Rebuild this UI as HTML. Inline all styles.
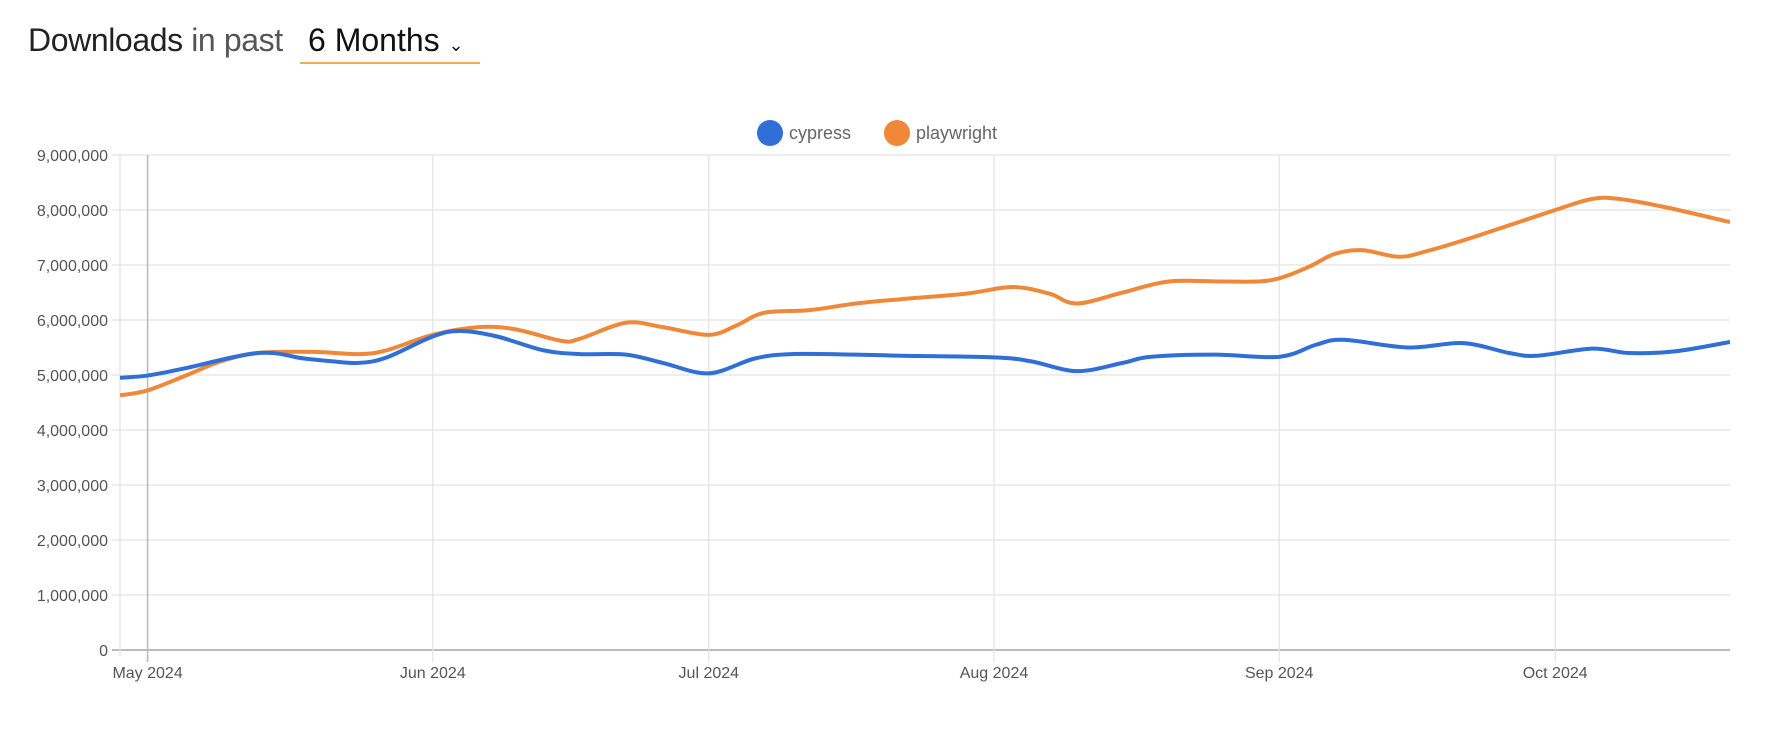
<!DOCTYPE html>
<html><head><meta charset="utf-8"><style>
body{margin:0;background:#fff;width:1778px;height:732px;overflow:hidden;font-family:"Liberation Sans",sans-serif}
#title{position:absolute;left:28px;top:22px;font-size:32px;color:#222;white-space:nowrap;letter-spacing:-0.4px}
#title b{font-weight:normal;color:#222}
#title .lt{color:#555}
#sel{position:absolute;left:300px;top:22px;width:172px;border-bottom:2px solid #e9b14f;font-size:32px;color:#111;padding-left:8px;height:40px}
svg{position:absolute;left:0;top:0}
</style></head><body>
<div id="title"><b>Downloads</b> <span class="lt">in past</span></div>
<div id="sel">6 Months <span style="font-size:18px">⌄</span></div>
<svg id="c" width="1778" height="732"></svg>
<script>
const cypressDates=["2024-04-28","2024-05-01","2024-05-05","2024-05-13","2024-05-18","2024-05-21","2024-05-24","2024-05-27","2024-06-01","2024-06-04","2024-06-08","2024-06-13","2024-06-17","2024-06-22","2024-06-26","2024-07-01","2024-07-06","2024-07-10","2024-07-17","2024-07-22","2024-08-01","2024-08-05","2024-08-10","2024-08-15","2024-08-18","2024-08-25","2024-09-01","2024-09-05","2024-09-08","2024-09-15","2024-09-21","2024-09-26","2024-09-29","2024-10-05","2024-10-09","2024-10-14","2024-10-20"];
const cypressValues=[4.95,4.99,5.12,5.4,5.3,5.25,5.22,5.32,5.7,5.8,5.7,5.45,5.38,5.37,5.22,5.03,5.3,5.38,5.37,5.35,5.32,5.25,5.07,5.22,5.33,5.37,5.33,5.55,5.64,5.5,5.58,5.4,5.35,5.48,5.4,5.43,5.6];
const playDates=["2024-04-28","2024-05-01","2024-05-05","2024-05-09","2024-05-13","2024-05-19","2024-05-24","2024-05-27","2024-06-01","2024-06-06","2024-06-10","2024-06-15","2024-06-17","2024-06-22","2024-06-26","2024-07-01","2024-07-04","2024-07-07","2024-07-12","2024-07-17","2024-07-22","2024-07-29","2024-08-03","2024-08-07","2024-08-10","2024-08-15","2024-08-20","2024-08-26","2024-08-31","2024-09-04","2024-09-07","2024-09-10","2024-09-14","2024-09-17","2024-09-22","2024-10-01","2024-10-05","2024-10-08","2024-10-13","2024-10-20"];
const playValues=[4.63,4.72,4.98,5.25,5.4,5.42,5.38,5.45,5.73,5.87,5.83,5.62,5.66,5.95,5.87,5.73,5.9,6.13,6.18,6.3,6.38,6.48,6.6,6.48,6.3,6.5,6.7,6.7,6.72,6.95,7.2,7.27,7.15,7.25,7.5,8.0,8.2,8.2,8.05,7.78];
const yTicks=[0,1,2,3,4,5,6,7,8,9];
const yTickLabels=["0","1,000,000","2,000,000","3,000,000","4,000,000","5,000,000","6,000,000","7,000,000","8,000,000","9,000,000"];
const xTicks=["2024-05-01","2024-06-01","2024-07-01","2024-08-01","2024-09-01","2024-10-01"];
const xTickLabels=["May 2024","Jun 2024","Jul 2024","Aug 2024","Sep 2024","Oct 2024"];

const svg=document.getElementById('c');const NS="http://www.w3.org/2000/svg";
const L=120,R=1730,T=155,B=650;
const d0=Date.UTC(2024,4,1),day=86400000;
function dd(s){const p=s.split('-');return (Date.UTC(+p[0],p[1]-1,+p[2])-d0)/day;}
const pxDay=9.2;
function X(s){return 147.6+dd(s)*pxDay;}
function Y(v){return B-(v/9)*(B-T);}
function mk(t,a,name,inter){const e=document.createElementNS(NS,t);for(const k in a)e.setAttribute(k,a[k]);


svg.appendChild(e);return e;}
const defs=document.createElementNS(NS,'defs');defs.innerHTML='<clipPath id="cp"><rect x="'+L+'" y="0" width="'+(R-L)+'" height="732"/></clipPath>';svg.appendChild(defs);
yTicks.forEach((v,i)=>{const y=Y(v);
mk('line',{x1:L-8,x2:R,y1:y,y2:y,stroke:v===0?'#bbb':'#e3e3e3','stroke-width':v===0?2:1.3},'y-gridline','false');
const t=mk('text',{x:L-12,y:y+6,'text-anchor':'end','font-size':16,fill:'#555'},'y-tick-label','false');t.textContent=yTickLabels[i];});
mk('line',{x1:L,x2:L,y1:T,y2:B+6,stroke:'#ddd','stroke-width':1},'y-axis-line','false');
xTicks.forEach((s,i)=>{const x=X(s);
mk('line',{x1:x,x2:x,y1:T,y2:B+12,stroke:i===0?'#bbb':'#e3e3e3','stroke-width':i===0?1.6:1.2},'x-gridline','false');
const t=mk('text',{x:x,y:678,'text-anchor':'middle','font-size':16,fill:'#555'},'x-tick-label','false');t.textContent=xTickLabels[i];});
function path(ds,vs){const p=ds.map((s,i)=>[X(s),Y(vs[i])]);let d='M'+p[0];
for(let i=0;i<p.length-1;i++){const a=p[Math.max(0,i-1)],b=p[i],c=p[i+1],e=p[Math.min(p.length-1,i+2)];
const c1=[b[0]+(c[0]-a[0])/6,b[1]+(c[1]-a[1])/6],c2=[c[0]-(e[0]-b[0])/6,c[1]-(e[1]-b[1])/6];
d+='C'+c1+' '+c2+' '+c;}return d;}
mk('path',{d:path(playDates,playValues),fill:'none',stroke:'#f0883a','stroke-width':4,'stroke-linejoin':'round','clip-path':'url(#cp)'},'playwright-line','false');
mk('path',{d:path(cypressDates,cypressValues),fill:'none',stroke:'#2f6fd6','stroke-width':4,'stroke-linejoin':'round','clip-path':'url(#cp)'},'cypress-line','false');
mk('circle',{cx:770,cy:133,r:13,fill:'#2f6fd6'},'legend-cypress-marker','true');
let t=mk('text',{x:789,y:139,'font-size':18,fill:'#666'},'legend-cypress-label','true');t.textContent='cypress';
mk('circle',{cx:897,cy:133,r:13,fill:'#f0883a'},'legend-playwright-marker','true');
t=mk('text',{x:916,y:139,'font-size':18,fill:'#666'},'legend-playwright-label','true');t.textContent='playwright';
</script></body></html>
